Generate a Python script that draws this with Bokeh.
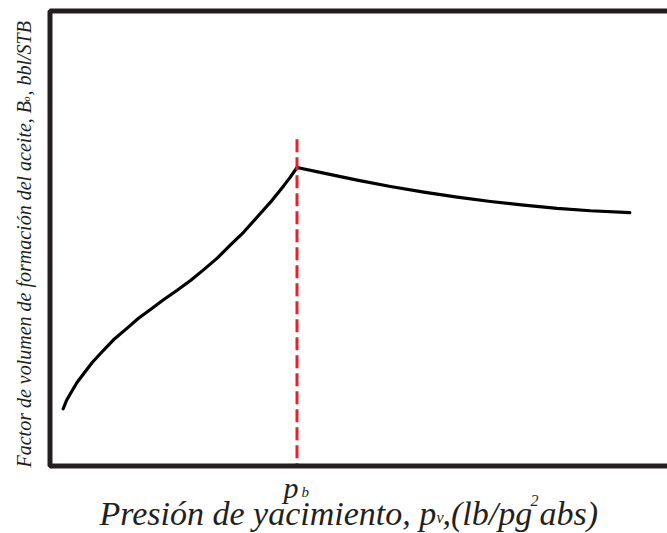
from bokeh.plotting import figure
from bokeh.models import Range1d, Label, ColumnDataSource, BoxAnnotation
from bokeh.embed import file_html
from bokeh.resources import INLINE

# Data
p_bubble = 2470.0
pressure_below = [132, 165, 205, 270, 338, 422, 505, 635, 772, 885, 1005, 1135, 1272,
                  1405, 1538, 1672, 1805, 1938, 2072, 2205, 2338, 2405, 2470]
bo_below = [1.0629, 1.0720, 1.0797, 1.0918, 1.1016, 1.1137, 1.1236, 1.1387, 1.1515,
            1.1623, 1.1720, 1.1827, 1.1931, 1.2038, 1.2158, 1.2284, 1.2429, 1.2571,
            1.2736, 1.2899, 1.3081, 1.3177, 1.3280]
pressure_above = [2470, 2738, 3072, 3405, 3738, 4072, 4405, 4738, 5072, 5405, 5798]
bo_above = [1.3280, 1.3218, 1.3141, 1.3071, 1.3009, 1.2954, 1.2907, 1.2866, 1.2831,
            1.2805, 1.2784]
dash_top = 1.359

# frame (axes box) limits and visible window of the data space
p_min, p_max = 0.0, 7000.0
bo_min, bo_max = 1.0, 1.5
x_view = (-495.0, 6175.0)
y_view = (0.925824, 1.511538)

x_label_main = "Presión de yacimiento, p"
x_label_sub = "v"
x_label_mid = " ,(lb/pg"
x_label_sup = "2"
x_label_end = "abs)"
y_label_main = "Factor de volumen de formación del aceite, B"
y_label_sub = "o"
y_label_end = ", bbl/STB"
pb_main = "p"
pb_sub = "b"

INK = "#231f20"
RED = "#e8202a"
FONT = "Liberation Serif"

p = figure(width=667, height=533, output_backend="svg", toolbar_location=None,
           x_range=Range1d(*x_view), y_range=Range1d(*y_view),
           x_axis_location=None, y_axis_location=None,
           min_border=0, min_border_left=0, min_border_right=0,
           min_border_top=0, min_border_bottom=0)
p.outline_line_color = None
p.grid.visible = False
p.background_fill_color = "white"
p.border_fill_color = "white"

# axes box (open on the right, beyond the window)
p.add_layout(BoxAnnotation(left=p_min, right=p_max, bottom=bo_min, top=bo_max,
                           fill_alpha=0, line_color=INK, line_alpha=1.0, line_width=5))

src = ColumnDataSource(dict(x=pressure_below + pressure_above[1:], y=bo_below + bo_above[1:]))
p.line("x", "y", source=src, line_color="black", line_width=3.2, line_join="round", line_cap="round")

p.segment(x0=[p_bubble], y0=[dash_top], x1=[p_bubble], y1=[bo_min],
          line_color=RED, line_width=3, line_dash="13 5")

def lab(text, sx, sy, size, angle=0.0):
    p.add_layout(Label(x=sx, y=sy, x_units="screen", y_units="screen", text=text,
                       text_font=FONT, text_font_style="italic", text_font_size=size,
                       text_color=INK, text_baseline="alphabetic", text_align="left",
                       angle=angle, angle_units="deg"))

# x label pieces (screen units from the bottom-left corner)
lab(x_label_main, 99, 20, "34px")
lab(x_label_sub, 436, 16, "16px")
lab(x_label_mid, 442, 20, "34px")
lab(x_label_sup, 530, 33, "16px")
lab(x_label_end, 539, 20, "34px")
# p_b
lab(pb_main, 283, 46, "30px")
lab(pb_sub, 301, 42, "15px")
# y label pieces (rotated)
lab(y_label_main, 23, 66, "20px", 90)
lab(y_label_sub, 26, 432, "10px", 90)
lab(y_label_end, 23, 438, "20px", 90)

open("out.html", "w").write(file_html(p, INLINE))
